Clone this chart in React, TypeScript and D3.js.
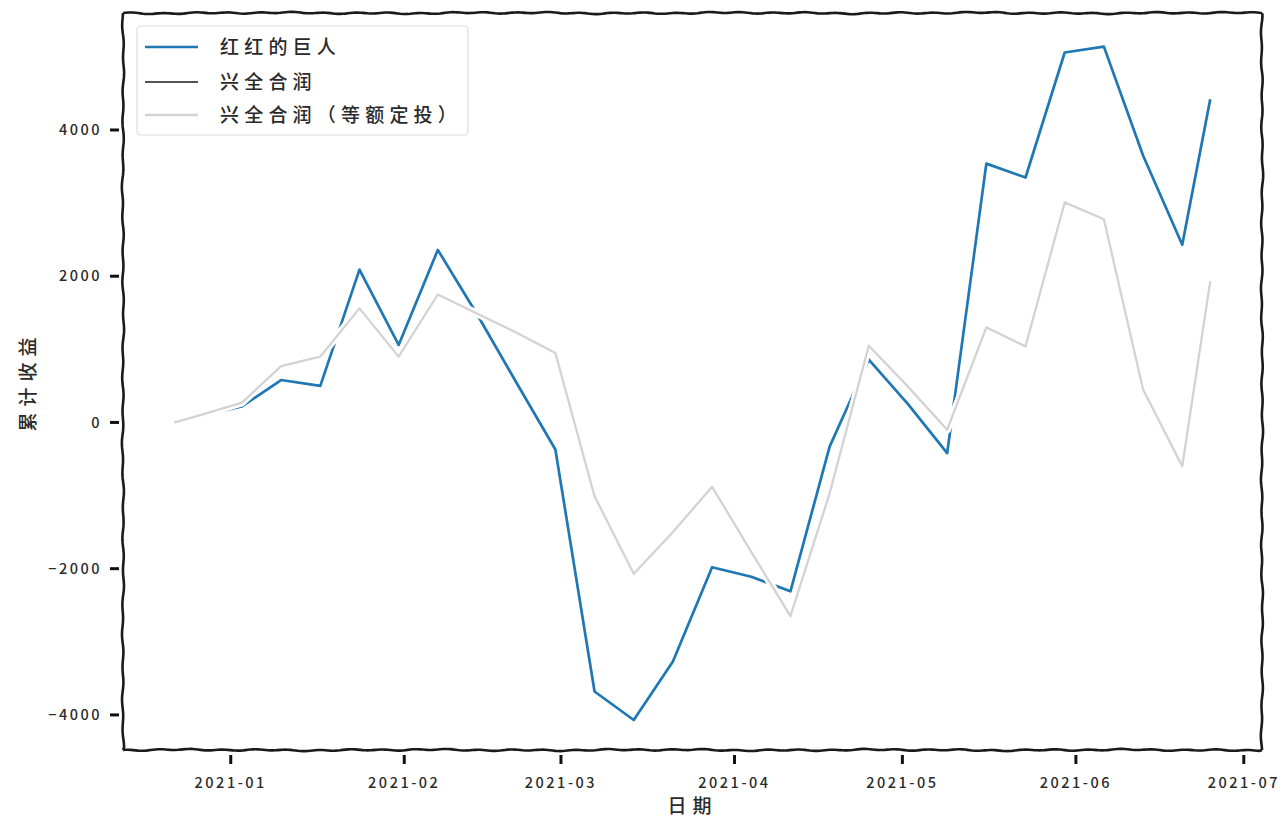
import React from "react";
import * as d3 from "d3";

const dates = ["2020-12-22","2020-12-27","2021-01-03","2021-01-10","2021-01-17","2021-01-24","2021-01-31","2021-02-07","2021-02-14","2021-02-21","2021-02-28","2021-03-07","2021-03-14","2021-03-21","2021-03-28","2021-04-04","2021-04-11","2021-04-18","2021-04-25","2021-05-02","2021-05-09","2021-05-16","2021-05-23","2021-05-30","2021-06-06","2021-06-13","2021-06-20","2021-06-25"];

const hongHong = [0, 100, 220, 580, 500, 2090, 1060, 2360, 1480, 550, -370, -3680, -4070, -3270, -1980, -2110, -2310, -330, 860, 250, -420, 3540, 3350, 5060, 5140, 3650, 2430, 4420];

const xingQuan = [0, 110, 270, 770, 900, 1560, 900, 1750, 1490, 1230, 950, -1010, -2070, -1500, -880, -1770, -2650, -970, 1050, 490, -100, 1300, 1040, 3010, 2780, 450, -600, 1930];

const xingQuanDca = [0, 110, 270, 770, 900, 1560, 900, 1750, 1490, 1230, 950, -1010, -2070, -1500, -880, -1770, -2650, -970, 1050, 490, -100, 1300, 1040, 3010, 2780, 450, -600, 1930];

const seriesNames = ["红红的巨人", "兴全合润", "兴全合润（等额定投）"];
const yTickValues = [-4000, -2000, 0, 2000, 4000];
const yLimits = [-4480, 5600];
const xLabel = "日期";
const yLabel = "累计收益";

const W = 1287, H = 818;
const L = 123, R = 1262, T = 13, B = 750;
const FONT = "'Noto Sans CJK SC', 'DejaVu Sans', sans-serif";

function wobble(x1: number, y1: number, x2: number, y2: number, seed: number) {
  const len = Math.hypot(x2 - x1, y2 - y1);
  const n = Math.max(2, Math.ceil(len / 2.5));
  const nx = -(y2 - y1) / len, ny = (x2 - x1) / len;
  const pts: [number, number][] = [];
  for (let i = 0; i <= n; i++) {
    const t = i / n;
    const s = t * len;
    const o = i === 0 || i === n ? 0 :
      0.55 * Math.sin(s / 5.1 + seed) + 0.35 * Math.sin(s / 13.7 + seed * 1.7) + 0.3 * Math.sin(s / 37 + seed * 2.3);
    pts.push([x1 + (x2 - x1) * t + nx * o, y1 + (y2 - y1) * t + ny * o]);
  }
  return d3.line()(pts) as string;
}

export default function App() {
  const parse = d3.timeParse("%Y-%m-%d");
  const ds = dates.map((d) => parse(d) as Date);
  const t0 = +ds[0], t1 = +ds[ds.length - 1];
  const span = t1 - t0;
  const x = d3.scaleTime().domain([new Date(t0 - 0.05 * span), new Date(t1 + 0.05 * span)]).range([L, R]);
  const y = d3.scaleLinear().domain(yLimits).range([B, T]);
  const line = d3.line<number>().x((_, i) => x(ds[i])).y((v) => y(v));
  const xTicks = x.ticks(d3.timeMonth.every(1) as any);
  const fmt = d3.timeFormat("%Y-%m");
  const series = [
    { vals: hongHong, color: "#1f77b4", w: 2.7 },
    { vals: xingQuan, color: "#555555", w: 2 },
    { vals: xingQuanDca, color: "#d3d3d3", w: 2.3 },
  ];
  const legendRows = [47, 82, 115];
  return (
    <svg width={W} height={H} style={{ position: "absolute", left: 0, top: 0, background: "#fff" }}>
      <rect x={0} y={0} width={W} height={H} fill="#fff" />
      {series.map((s, i) => (
        <g key={i}>
          <path d={line(s.vals) as string} fill="none" stroke="#fff" strokeWidth={s.w + 5} strokeLinejoin="round" />
          <path d={line(s.vals) as string} fill="none" stroke={s.color} strokeWidth={s.w} strokeLinejoin="round" />
        </g>
      ))}
      <g stroke="#1a1a1a" strokeWidth={2.6} fill="none">
        <path d={wobble(L, B, L, T, 1)} />
        <path d={wobble(R, B, R, T, 2)} />
        <path d={wobble(L, T, R, T, 3)} />
        <path d={wobble(L, B, R, B, 4)} />
      </g>
      {yTickValues.map((v) => (
        <g key={v}>
          <line x1={L - 13} x2={L - 4} y1={y(v)} y2={y(v)} stroke="#111" strokeWidth={3} />
          <text x={L - 21} y={y(v)} dy="0.35em" textAnchor="end" fontFamily={FONT} fontSize={14.5} fontWeight={500} letterSpacing={2.5} fill="#2a2a2a">
            {v < 0 ? "\u2212" + Math.abs(v) : String(v)}
          </text>
        </g>
      ))}
      {xTicks.map((t) => (
        <g key={+t}>
          <line x1={x(t)} x2={x(t)} y1={B + 5} y2={B + 14} stroke="#111" strokeWidth={3} />
          <text x={x(t)} y={B + 33} dy="0.35em" textAnchor="middle" fontFamily={FONT} fontSize={14.5} fontWeight={500} letterSpacing={2.5} fill="#2a2a2a">
            {fmt(t)}
          </text>
        </g>
      ))}
      <text x={(L + R) / 2} y={806} dy="0.35em" textAnchor="middle" fontFamily={FONT} fontSize={19} fontWeight={500} letterSpacing={6} fill="#2a2a2a">
        {xLabel}
      </text>
      <text transform={`translate(28,${(T + B) / 2}) rotate(-90)`} dy="0.35em" textAnchor="middle" fontFamily={FONT} fontSize={19} fontWeight={500} letterSpacing={6} fill="#2a2a2a">
        {yLabel}
      </text>
      <rect x={137} y={26} width={331} height={109} rx={4} fill="#fff" fillOpacity={0.85} stroke="#dcdcdc" strokeWidth={1.2} />
      {series.map((s, i) => (
        <g key={i}>
          <line x1={145} x2={198} y1={legendRows[i]} y2={legendRows[i]} stroke={s.color} strokeWidth={s.w} />
          <text x={220} y={legendRows[i]} dy="0.35em" fontFamily={FONT} fontSize={19} fontWeight={500} letterSpacing={5.2} fill="#2a2a2a">
            {seriesNames[i]}
          </text>
        </g>
      ))}
    </svg>
  );
}
